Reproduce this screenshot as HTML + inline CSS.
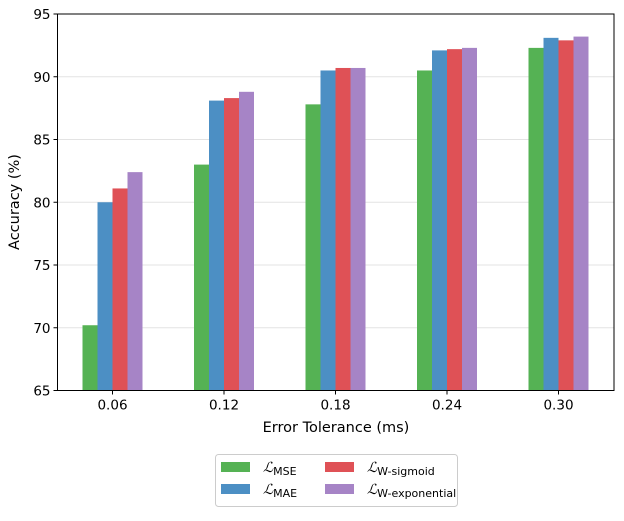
<!DOCTYPE html>
<html><head><meta charset="utf-8"><style>
body{margin:0;background:#fff;}
text{font-family:"DejaVu Sans","Liberation Sans",sans-serif;fill:#000;}
</style></head><body>
<svg id="chart" width="624" height="516" viewBox="0 0 624 516" xmlns="http://www.w3.org/2000/svg">
<g id="grid"></g><g id="bars"></g><g id="axes"></g>
<text transform="translate(19,202) rotate(-90)" text-anchor="middle" font-size="14.5">Accuracy (%)</text>
<text x="336" y="432" text-anchor="middle" font-size="14.5">Error Tolerance (ms)</text>
<g>
<rect x="215.5" y="454.5" width="242" height="52" rx="3" fill="#fff" stroke="#ccc"/>
<rect x="221" y="462" width="29" height="10" fill="#55b254"/>
<text x="263" y="472" font-size="14"><tspan font-family="Liberation Serif" font-style="italic">ℒ</tspan><tspan font-size="11" dy="3">MSE</tspan></text>
<rect x="221" y="484" width="29" height="10" fill="#4c8fc4"/>
<text x="263" y="494" font-size="14"><tspan font-family="Liberation Serif" font-style="italic">ℒ</tspan><tspan font-size="11" dy="3">MAE</tspan></text>
<rect x="325" y="462" width="29" height="10" fill="#df5156"/>
<text x="367" y="472" font-size="14"><tspan font-family="Liberation Serif" font-style="italic">ℒ</tspan><tspan font-size="11" dy="3">W-sigmoid</tspan></text>
<rect x="325" y="484" width="29" height="10" fill="#a684c6"/>
<text x="367" y="494" font-size="14"><tspan font-family="Liberation Serif" font-style="italic">ℒ</tspan><tspan font-size="11" dy="3">W-exponential</tspan></text>
</g>
</svg>
<script>
const categories = ["0.06","0.12","0.18","0.24","0.30"];
const mse = [70.2, 83.0, 87.8, 90.5, 92.3];
const mae = [80.0, 88.1, 90.5, 92.1, 93.1];
const wSigmoid = [81.1, 88.3, 90.7, 92.2, 92.9];
const wExponential = [82.4, 88.8, 90.7, 92.3, 93.2];
const yTicks = [65, 70, 75, 80, 85, 90, 95];

const NS = "http://www.w3.org/2000/svg";
const L = 57.5, R = 614, T = 14, B = 390.5, yMin = 65, yMax = 95;
const y = v => B - (v - yMin) / (yMax - yMin) * (B - T);
const step = 111.5, x0 = 112.5;
const x = i => x0 + i * step;
const barW = 15;
function mk(tag, attrs, parent){const e=document.createElementNS(NS,tag);for(const k in attrs)e.setAttribute(k,attrs[k]);parent.appendChild(e);return e;}
const grid=document.getElementById('grid'), bars=document.getElementById('bars'), axes=document.getElementById('axes');
yTicks.forEach(t=>{
  if(t!==yMin&&t!==yMax){const g=mk('line',{x1:L,x2:R,y1:y(t),y2:y(t),stroke:'#e3e3e3','stroke-width':1},grid);
  
  }
  const tk=mk('line',{x1:L-4,x2:L,y1:y(t),y2:y(t),stroke:'#000'},axes);
  
  
  const tx=mk('text',{x:L-7,y:y(t)+5,'text-anchor':'end','font-size':13.5},axes);
  
  
  tx.textContent=t;
});
const series=[[mse,'#55b254','mse'],[mae,'#4c8fc4','mae'],[wSigmoid,'#df5156','w-sigmoid'],[wExponential,'#a684c6','w-exponential']];
categories.forEach((c,i)=>{
  series.forEach((s,j)=>{
    const v=s[0][i];
    const r=mk('rect',{x:x(i)-2*barW+j*barW,y:y(v),width:barW,height:B-y(v),fill:s[1]},bars);
    
    
  });
  const tk=mk('line',{x1:x(i),x2:x(i),y1:B,y2:B+4,stroke:'#000'},axes);
  
  
  const tx=mk('text',{x:x(i),y:B+19,'text-anchor':'middle','font-size':13.5},axes);
  
  
  tx.textContent=c;
});
const f=mk('rect',{x:L,y:T,width:R-L,height:B-T,fill:'none',stroke:'#000','stroke-width':1},axes);


</script>
</body></html>
